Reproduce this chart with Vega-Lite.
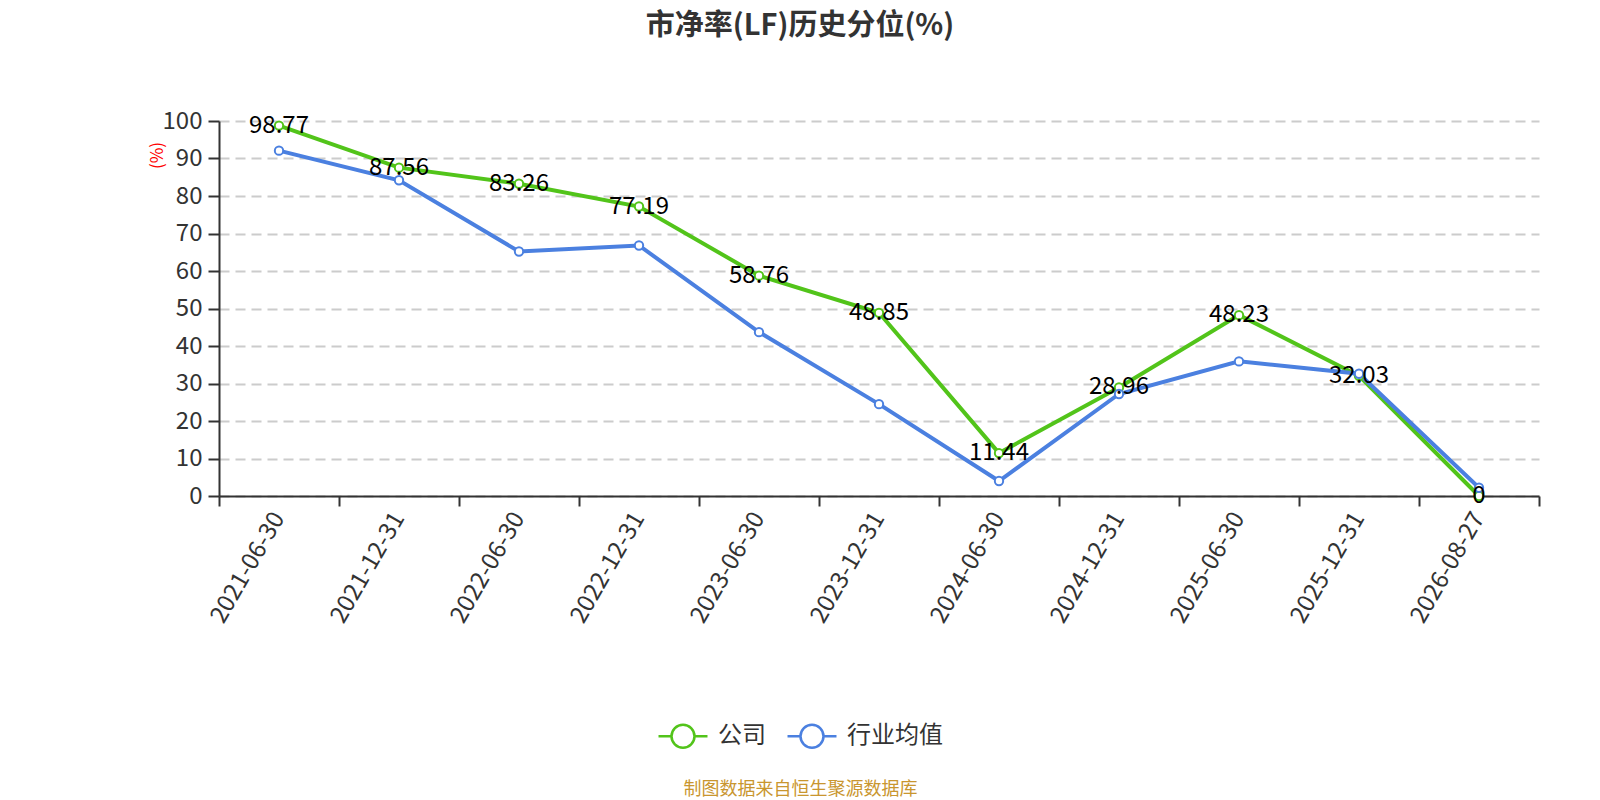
{
  "$schema": "https://vega.github.io/schema/vega-lite/v6.json",
  "autosize": "none",
  "padding": {"left": 219, "top": 121, "right": 61, "bottom": 304},
  "width": 1320,
  "height": 375,
  "title": {
    "text": "市净率(LF)历史分位(%)",
    "font": "Noto Sans CJK SC",
    "fontSize": 29,
    "fontWeight": "bold",
    "color": "#333333",
    "anchor": "middle",
    "dx": -79,
    "offset": 68
  },
  "config": {
    "view": {"stroke": null},
    "font": "Noto Sans CJK SC"
  },
  "data": {
    "values": [
      {"date": "2021-06-30", "series": "公司", "value": 98.77},
      {"date": "2021-12-31", "series": "公司", "value": 87.56},
      {"date": "2022-06-30", "series": "公司", "value": 83.26},
      {"date": "2022-12-31", "series": "公司", "value": 77.19},
      {"date": "2023-06-30", "series": "公司", "value": 58.76},
      {"date": "2023-12-31", "series": "公司", "value": 48.85},
      {"date": "2024-06-30", "series": "公司", "value": 11.44},
      {"date": "2024-12-31", "series": "公司", "value": 28.96},
      {"date": "2025-06-30", "series": "公司", "value": 48.23},
      {"date": "2025-12-31", "series": "公司", "value": 32.03},
      {"date": "2026-08-27", "series": "公司", "value": 0},
      {"date": "2021-06-30", "series": "行业均值", "value": 92.1},
      {"date": "2021-12-31", "series": "行业均值", "value": 84.2},
      {"date": "2022-06-30", "series": "行业均值", "value": 65.2},
      {"date": "2022-12-31", "series": "行业均值", "value": 66.8},
      {"date": "2023-06-30", "series": "行业均值", "value": 43.7},
      {"date": "2023-12-31", "series": "行业均值", "value": 24.5},
      {"date": "2024-06-30", "series": "行业均值", "value": 4.0},
      {"date": "2024-12-31", "series": "行业均值", "value": 27.2},
      {"date": "2025-06-30", "series": "行业均值", "value": 35.9},
      {"date": "2025-12-31", "series": "行业均值", "value": 32.6},
      {"date": "2026-08-27", "series": "行业均值", "value": 2.2}
    ]
  },
  "encoding": {
    "x": {
      "field": "date",
      "type": "ordinal",
      "bandPosition": 0.5,
      "scale": {"type": "band", "paddingInner": 0, "paddingOuter": 0},
      "axis": {
        "bandPosition": 1,
        "tickExtra": true,
        "labelAngle": -60,
        "labelFontSize": 24,
        "labelColor": "#333333",
        "labelPadding": 8,
        "tickSize": 10,
        "tickColor": "#333333",
        "tickWidth": 2,
        "domainColor": "#333333",
        "domainWidth": 2,
        "grid": false,
        "title": "制图数据来自恒生聚源数据库",
        "titleFontSize": 18,
        "titleFontWeight": "normal",
        "titleColor": "#C9962F",
        "titleX": 581,
        "titleY": 293,
        "titleAlign": "center",
        "titleBaseline": "middle"
      }
    },
    "y": {
      "field": "value",
      "type": "quantitative",
      "scale": {"domain": [0, 100], "nice": false},
      "axis": {
        "values": [0, 10, 20, 30, 40, 50, 60, 70, 80, 90, 100],
        "labelFontSize": 24,
        "labelColor": "#333333",
        "labelPadding": 6,
        "tickSize": 11,
        "tickColor": "#333333",
        "tickWidth": 2,
        "domainColor": "#333333",
        "domainWidth": 2,
        "gridColor": "#cccccc",
        "gridWidth": 2,
        "gridDash": [10, 6],
        "title": "(%)",
        "titleColor": "red",
        "titleFontSize": 17,
        "titleFontWeight": "normal",
        "titleAngle": -90,
        "titleX": -62,
        "titleY": 34,
        "titleAlign": "center",
        "titleBaseline": "middle"
      }
    }
  },
  "layer": [
    {
      "mark": {"type": "line", "strokeWidth": 4},
      "encoding": {
        "color": {
          "field": "series",
          "type": "nominal",
          "scale": {"domain": ["公司", "行业均值"], "range": ["#52C41A", "#4B80E0"]},
          "legend": {
            "title": null,
            "orient": "none",
            "direction": "horizontal",
            "legendX": 451,
            "legendY": 602,
            "symbolType": "M-2.13,0L-1,0M1,0L2.13,0M-1,0A1,1 0 1 1 1,0A1,1 0 1 1 -1,0Z",
            "symbolSize": 529,
            "symbolFillColor": "white",
            "symbolStrokeWidth": 2.5,
            "labelFontSize": 24,
            "labelColor": "#333333",
            "labelOffset": 22,
            "columnPadding": 16
          }
        }
      }
    },
    {
      "mark": {"type": "point", "filled": true, "fill": "white", "size": 70, "strokeWidth": 2, "opacity": 1},
      "encoding": {
        "stroke": {"field": "series", "type": "nominal", "scale": {"domain": ["公司", "行业均值"], "range": ["#52C41A", "#4B80E0"]}, "legend": null}
      }
    },
    {
      "transform": [{"filter": "datum.series == '公司'"}],
      "mark": {"type": "text", "fontSize": 24, "color": "black", "align": "center", "baseline": "middle"},
      "encoding": {
        "text": {"field": "value", "type": "quantitative"}
      }
    }
  ]
}
